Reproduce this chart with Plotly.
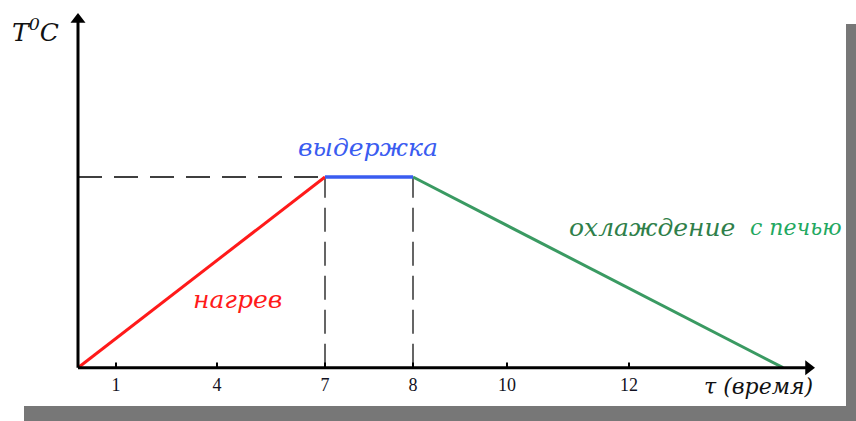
import plotly.graph_objects as go

# Heat-treatment cycle: heating, holding, cooling with the furnace.
# Time axis is schematic: the stage boundaries sit at fixed positions,
# and the tick labels mark nominal hours along it.
tick_pos = [0.38, 1.39, 2.47, 3.35, 4.29, 5.51]
tick_labels = ["1", "4", "7", "8", "10", "12"]

heat_x = [0.0, 2.47]
heat_y = [0.0, 1.0]
hold_x = [2.47, 3.35]
hold_y = [1.0, 1.0]
cool_x = [3.35, 7.05]
cool_y = [1.0, 0.0]

x_max = 7.37   # tip of the time arrow
y_max = 1.86   # tip of the temperature arrow

RED = "#ff1a1a"
BLUE = "#3a5cf0"
GREEN = "#3a9a62"
SERIF = "DejaVu Serif"

# The plotting area fills the whole page; axes are drawn as arrows.
X_RANGE = [-0.78, 7.78]
Y_RANGE = [-0.2795, 1.928]

fig = go.Figure()

# guide lines to the holding temperature and stage boundaries
fig.add_trace(go.Scatter(x=[0, hold_x[0]], y=[hold_y[0], hold_y[0]], mode="lines",
                         line=dict(color="black", width=1.3, dash="24px,12px"),
                         hoverinfo="skip"))
for xv in (hold_x[0], hold_x[1]):
    fig.add_trace(go.Scatter(x=[xv, xv], y=[0, hold_y[0]], mode="lines",
                             line=dict(color="#333333", width=1.5, dash="24px,10px"),
                             hoverinfo="skip"))

# stage curves
fig.add_trace(go.Scatter(x=heat_x, y=heat_y, mode="lines", line=dict(color=RED, width=3)))
fig.add_trace(go.Scatter(x=cool_x, y=cool_y, mode="lines", line=dict(color=GREEN, width=3)))
fig.add_trace(go.Scatter(x=hold_x, y=hold_y, mode="lines", line=dict(color=BLUE, width=3.5)))

# small tick marks above the time axis
tx, ty = [], []
for p in tick_pos:
    tx += [p, p, None]
    ty += [0, 0.027, None]
fig.add_trace(go.Scatter(x=tx, y=ty, mode="lines", line=dict(color="black", width=2),
                         hoverinfo="skip"))

# tick labels
fig.add_trace(go.Scatter(x=tick_pos, y=[-0.1] * len(tick_pos), mode="text",
                         text=tick_labels, textposition="middle center",
                         textfont=dict(family="Liberation Serif", size=18, color="#111122"),
                         hoverinfo="skip"))

# axis lines
fig.add_trace(go.Scatter(x=[0, x_max - 0.08, None, 0, 0], y=[0, 0, None, 0, y_max - 0.04],
                         mode="lines", line=dict(color="black", width=3),
                         hoverinfo="skip"))
# arrowheads, centred just short of each tip
fig.add_trace(go.Scatter(x=[x_max - 0.065], y=[0], mode="markers",
                         marker=dict(symbol="triangle-right", size=13, color="black"),
                         hoverinfo="skip"))
fig.add_trace(go.Scatter(x=[0], y=[y_max - 0.034], mode="markers",
                         marker=dict(symbol="triangle-up", size=13, color="black"),
                         hoverinfo="skip"))


def label(text, x, y, color, size, xanchor="center"):
    fig.add_annotation(x=x, y=y, xref="x", yref="y", text=text, showarrow=False,
                       xanchor=xanchor, yanchor="middle",
                       font=dict(family=SERIF, size=size, color=color, style="italic"))


label("выдержка", 2.90, 1.155, BLUE, 25)
label("нагрев", 1.59, 0.355, RED, 25)
label("охлаждение", 4.89, 0.735, "#2f7f4a", 25, xanchor="left")
label("с печью", 6.70, 0.735, "#22a860", 22, xanchor="left")
label("τ (время)", x_max, -0.10, "#111111", 22, xanchor="right")
label("T<sup>0</sup>C", -0.68, 1.77, "#111111", 25, xanchor="left")

# drop shadow along the right and bottom edges
shadow = "#777777"
fig.add_shape(type="rect", xref="x", yref="y", x0=7.68, x1=7.78, y0=Y_RANGE[0],
              y1=(367.7 - 24) / 190.7, fillcolor=shadow, line_width=0, layer="below")
fig.add_shape(type="rect", xref="x", yref="y", x0=-0.54, x1=7.68, y0=Y_RANGE[0],
              y1=-(406 - 367.7) / 190.7, fillcolor=shadow, line_width=0, layer="below")

fig.update_layout(
    width=856, height=421,
    margin=dict(l=0, r=0, t=0, b=0),
    paper_bgcolor="white", plot_bgcolor="white",
    showlegend=False,
    xaxis=dict(range=X_RANGE, visible=False, fixedrange=True),
    yaxis=dict(range=Y_RANGE, visible=False, fixedrange=True),
)

fig.write_html("out.html")
